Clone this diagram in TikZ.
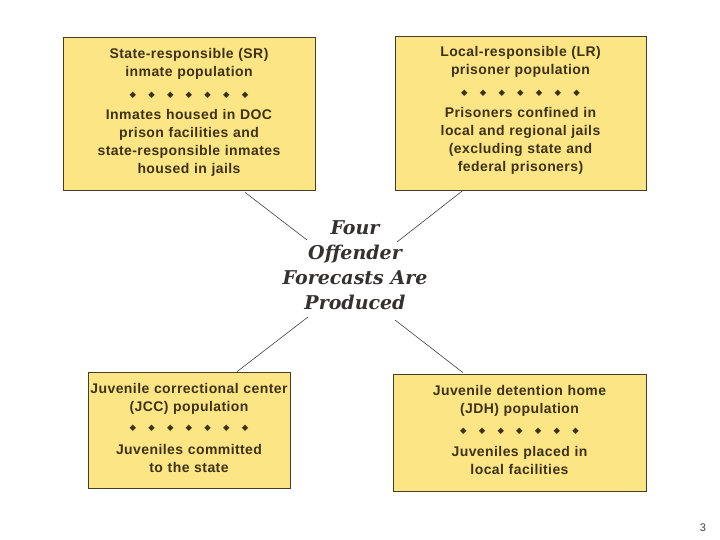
\documentclass[tikz,border=0pt]{standalone}
\usepackage{fontspec}
\usetikzlibrary{calc}
\newfontfamily\boxfont{Liberation Sans}[LetterSpace=3]
\newfontfamily\hubfont{DejaVu Serif}
\newfontfamily\symfont{DejaVu Sans}
\definecolor{boxfill}{RGB}{252,229,132}
\definecolor{boxline}{RGB}{70,60,40}
\definecolor{boxtext}{RGB}{62,50,22}
\definecolor{hubtext}{RGB}{52,50,48}
\newcommand\dia{\makebox[18.7pt]{\symfont\fontsize{8.5}{8.5}\selectfont ◆}}
\newcommand\dotrow{\dia\dia\dia\dia\dia\dia\dia}
\tikzset{
  popbox/.style={draw=boxline, line width=0.7pt, fill=boxfill, inner sep=0pt,
    align=center, text=boxtext,
    font=\boxfont\bfseries\fontsize{14}{18}\selectfont},
  link/.style={draw=black!75, line width=0.6pt}
}
\begin{document}
\begin{tikzpicture}[x=1pt,y=-1pt]
	\useasboundingbox (0,0) rectangle (720,540);
	% the four population boxes
	\node[popbox, text width=252pt, minimum height=153pt] (sr) at (189,113.5)
	  {State-responsible (SR)\\inmate population\\[2.5pt]\dotrow\\[4pt]
	   Inmates housed in DOC\\prison facilities and\\state-responsible inmates\\housed in jails\\[-12.5pt]\mbox{}};
	\node[popbox, text width=251pt, minimum height=154pt] (lr) at (520.5,113)
	  {Local-responsible (LR)\\prisoner population\\[3pt]\dotrow\\[4pt]
	   Prisoners confined in\\local and regional jails\\(excluding state and\\federal prisoners)\\[-10.5pt]\mbox{}};
	\node[popbox, text width=202pt, minimum height=116pt] (jcc) at (189,430)
	  {Juvenile correctional center\\(JCC) population\\[1pt]\dotrow\\[6pt]
	   Juveniles committed\\to the state\\[-14pt]\mbox{}};
	\node[popbox, text width=253pt, minimum height=117pt] (jdh) at (519.5,432.5)
	  {Juvenile detention home\\(JDH) population\\[2pt]\dotrow\\[5pt]
	   Juveniles placed in\\local facilities\\[-12pt]\mbox{}};
	% centre text
	\node[align=center, text=hubtext, font=\hubfont\bfseries\itshape\fontsize{19}{25}\selectfont]
	  (hub) at (355,265) {Four\\Offender\\Forecasts Are\\Produced};
	% connectors
	\draw[link] ($(sr.south)+(56,2)$) -- ($(hub.center)+(-48,-25)$);
	\draw[link] ($(lr.south)+(-57.5,0)$) -- ($(hub.center)+(42,-23)$);
	\draw[link] ($(jcc.north)+(48,0)$) -- ($(hub.center)+(-47,52)$);
	\draw[link] ($(jdh.north)+(-56.5,-1)$) -- ($(hub.center)+(40,55)$);
	% page number
	\node[text=black!75, font=\boxfont\fontsize{11}{11}\selectfont] (pg) at (703,528) {3};
\end{tikzpicture}
\end{document}
